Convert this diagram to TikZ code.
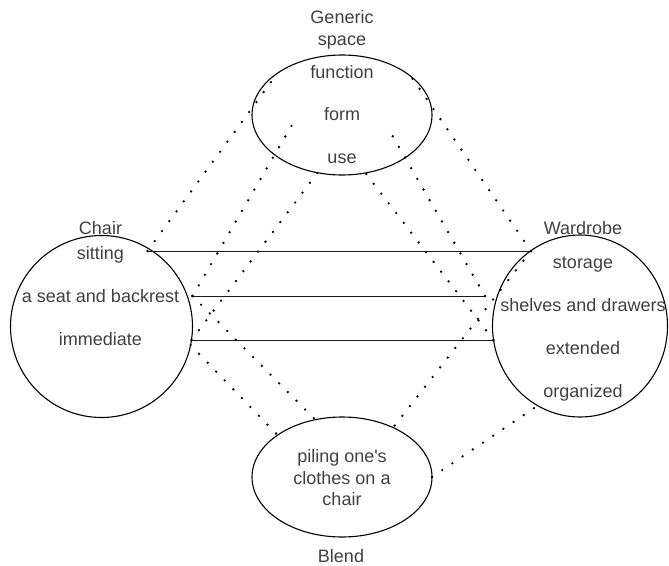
\documentclass[tikz,border=0pt]{standalone}
\usepackage{fontspec}
\setmainfont{Liberation Sans}
\usetikzlibrary{shapes.geometric}

\begin{document}
\begin{tikzpicture}[x=1pt,y=-1pt,
  space/.style={ellipse, draw=black, line width=1.1pt, minimum width=180pt,
    minimum height=120pt, inner sep=0pt, outer sep=0pt},
  lbl/.style={anchor=base, text=black!75, inner sep=0pt,
    font=\fontsize{18}{21.5}\selectfont},
  link/.style={draw=black!90, line width=0.9pt},
  dots/.style={draw=black, line width=2.6pt, line cap=round,
    dash pattern=on 0pt off 12.3pt},
]
\useasboundingbox (0,0) rectangle (669,565);

% the four spaces
\node[space] (gen) at (342,115) {};
\node[space] (blend) at (342,477) {};
\node[space, minimum width=182pt, minimum height=182pt] (chair) at (101.5,326.5) {};
\node[space, minimum width=175pt, minimum height=182pt] (ward) at (580,326) {};

% generic space
\node[lbl] (tGeneric) at (342,23.5) {Generic};
\node[lbl] (tSpace) at (342,45) {space};
\node[lbl] (tFunction) at (342,78) {function};
\node[lbl] (tForm) at (342,120) {form};
\node[lbl] (tUse) at (342,163) {use};

% input space: chair
\node[lbl] (tChair) at (100.5,234) {Chair};
\node[lbl] (tSitting) at (100.5,259) {sitting};
\node[lbl] (tSeat) at (100.5,302) {a seat and backrest};
\node[lbl] (tImm) at (100.5,345) {immediate};

% input space: wardrobe
\node[lbl] (tWard) at (583,234) {Wardrobe};
\node[lbl] (tStorage) at (583,268) {storage};
\node[lbl] (tShelves) at (583,311) {shelves and drawers};
\node[lbl] (tExt) at (583,354) {extended};
\node[lbl] (tOrg) at (583,397) {organized};

% blended space
\node[lbl] (tPile) at (342,462.5) {piling one\textquotesingle s};
\node[lbl] (tClothes) at (342,484) {clothes on a};
\node[lbl] (tOnChair) at (342,505.5) {chair};
\node[lbl] (tBlend) at (341,562) {Blend};

% attachment points
\coordinate (p1) at (147.5,251);
\coordinate (p2) at (192.5,296);
\coordinate (p3) at (191.5,340);
\coordinate (p3b) at (190.6,345);
\coordinate (q1) at (531,251);
\coordinate (q2) at (485,296);
\coordinate (q3) at (493.5,340);
\coordinate (gFormW) at (296,118);
\coordinate (gFormE) at (388,128);

% cross-space mappings
\draw[link] (p1) -- (q1);
\draw[link] (p2) -- (q2);
\draw[link] (p3) -- (q3);

% projections to the generic and blended spaces
\draw[dots] (p1) -- (gen.147.5);
\draw[dots] (p2) -- (gFormW);
\draw[dots] (p2) -- (blend.115);
\draw[dots] (p3) -- (gen.247.5);
\draw[dots] (p3b) -- (blend.147);
\draw[dots] (q1) -- (gen.29);
\draw[dots] (q1) -- (blend.44.4);
\draw[dots] (q2) -- (gFormE);
\draw[dots] (q3) -- (gen.292.5);
\draw[dots] (blend.east) -- (ward.242);
\end{tikzpicture}
\end{document}
